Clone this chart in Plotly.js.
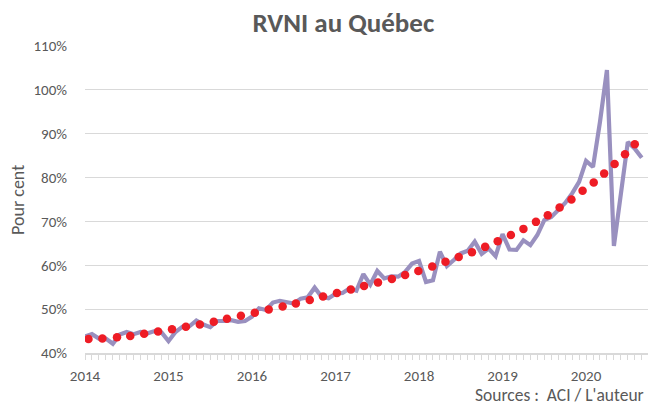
<!DOCTYPE html>
<html>
<head>
<meta charset="utf-8">
<script src="https://cdn.plot.ly/plotly-3.0.1.min.js"></script>
<style>html,body{margin:0;padding:0;background:#fff;}#chart{width:649px;height:408px;}</style>
</head>
<body>
<div id="chart"></div>
<script>
// Monthly RVNI (%), Jan 2014 .. Sep 2020 (month index 0 = Jan 2014)
const rvniMonth = [];
const rvniValues = [
  43.8, 44.3, 43.3, 43.3, 42.1, 44.2, 44.8, 44.3, 44.8, 44.5, 45.0, 44.7,
  42.7, 44.8, 46.0, 46.1, 47.4, 46.5, 45.9, 47.3, 47.3, 47.5, 47.1, 47.3,
  48.3, 50.2, 49.8, 51.5, 51.9, 51.7, 51.3, 52.4, 52.7, 54.9, 52.8, 52.5,
  53.5, 53.7, 54.7, 54.2, 58.0, 55.6, 58.7, 57.0, 57.5, 57.4, 58.5, 60.4,
  61.0, 56.2, 56.6, 63.1, 59.8, 61.2, 62.7, 63.3, 65.4, 62.6, 63.8, 62.1,
  67.1, 63.6, 63.5, 65.7, 64.6, 66.9, 70.3, 71.0, 72.6, 74.2, 76.4, 79.0,
  83.8, 82.4, 92.7, 104.5, 64.4, 75.5, 88.1, 86.6, 84.5
];
for (let i = 0; i < rvniValues.length; i++) rvniMonth.push(i);

// Trend line dots (position in months since Jan 2014, value %)
const trendMonth = [
  0.5, 2.5, 4.6, 6.5, 8.5, 10.5, 12.5, 14.5, 16.5, 18.5, 20.4, 22.4,
  24.4, 26.4, 28.4, 30.3, 32.3, 34.2, 36.2, 38.2, 40.1, 42.1, 44.1,
  46.0, 47.9, 49.9, 51.8, 53.7, 55.6, 57.5, 59.3, 61.2, 63.0, 64.8,
  66.5, 68.2, 69.9, 71.5, 73.1, 74.6, 76.1, 77.6, 79.0
];
const trendValues = [
  43.2, 43.3, 43.6, 43.9, 44.4, 44.9, 45.4, 46.0, 46.5, 47.1, 47.8, 48.5,
  49.2, 49.9, 50.6, 51.3, 52.1, 52.9, 53.7, 54.5, 55.3, 56.1, 56.9,
  57.8, 58.7, 59.7, 60.8, 61.9, 63.0, 64.2, 65.5, 66.9, 68.3, 69.9,
  71.4, 73.2, 75.0, 77.0, 78.9, 80.9, 83.1, 85.3, 87.6
];

const yearTickMonth = [0, 12, 24, 36, 48, 60, 72];
const yearTickLabels = ['2014', '2015', '2016', '2017', '2018', '2019', '2020'];
const yTicks = [40, 50, 60, 70, 80, 90, 100, 110];
const yTickLabels = ['40%', '50%', '60%', '70%', '80%', '90%', '100%', '110%'];

const textColor = '#595959';
const gridColor = '#d9d9d9';
const fontFam = 'Carlito, Lato, "Open Sans", sans-serif';

const traces = [
  {
    x: rvniMonth, y: rvniValues, type: 'scatter', mode: 'lines',
    line: {color: '#9990bf', width: 4.2, shape: 'linear'},
    hoverinfo: 'skip', showlegend: false
  },
  {
    x: trendMonth, y: trendValues, type: 'scatter', mode: 'markers',
    marker: {color: '#ee1c25', size: 8.5, line: {width: 0}},
    hoverinfo: 'skip', showlegend: false
  }
];

const layout = {
  width: 649, height: 408,
  margin: {l: 85, r: 1, t: 46, b: 55},
  paper_bgcolor: '#ffffff', plot_bgcolor: '#ffffff',
  font: {family: fontFam, color: textColor, size: 14},
  title: {
    text: '<b>RVNI au Québec</b>',
    font: {family: fontFam, size: 27, color: textColor},
    x: 0.529, xref: 'container', xanchor: 'center',
    y: 0.945, yref: 'container', yanchor: 'middle'
  },
  xaxis: {
    range: [0, 80.9],
    tickmode: 'array', tickvals: yearTickMonth, ticktext: yearTickLabels,
    ticks: 'outside', ticklen: 5, tickcolor: gridColor, tickwidth: 1,
    minor: {dtick: 1, tick0: 0, ticks: 'outside', ticklen: 5, tickcolor: gridColor, tickwidth: 1, showgrid: false},
    showgrid: false, zeroline: false,
    showline: true, linecolor: gridColor, linewidth: 1.5,
    ticklabelstandoff: 3,
    tickfont: {family: fontFam, size: 15, color: textColor},
    fixedrange: true
  },
  yaxis: {
    range: [40, 110],
    tickmode: 'array', tickvals: yTicks, ticktext: yTickLabels,
    showgrid: true, gridcolor: gridColor, gridwidth: 1,
    zeroline: false, showline: false, ticks: '',
    ticklabelstandoff: 17,
    tickfont: {family: fontFam, size: 15, color: textColor},
    fixedrange: true
  },
  annotations: [
    {
      text: 'Pour cent', textangle: -90,
      xref: 'paper', yref: 'paper', x: -0.12, y: 0.5,
      xanchor: 'center', yanchor: 'middle', showarrow: false,
      font: {family: fontFam, size: 18, color: textColor}
    },
    {
      text: 'Sources :  ACI / L\'auteur',
      xref: 'paper', yref: 'paper', x: 0.996, y: -0.138,
      xanchor: 'right', yanchor: 'middle', showarrow: false,
      font: {family: fontFam, size: 17.5, color: textColor}
    }
  ]
};

Plotly.newPlot('chart', traces, layout, {displayModeBar: false, staticPlot: true});
</script>
</body>
</html>
